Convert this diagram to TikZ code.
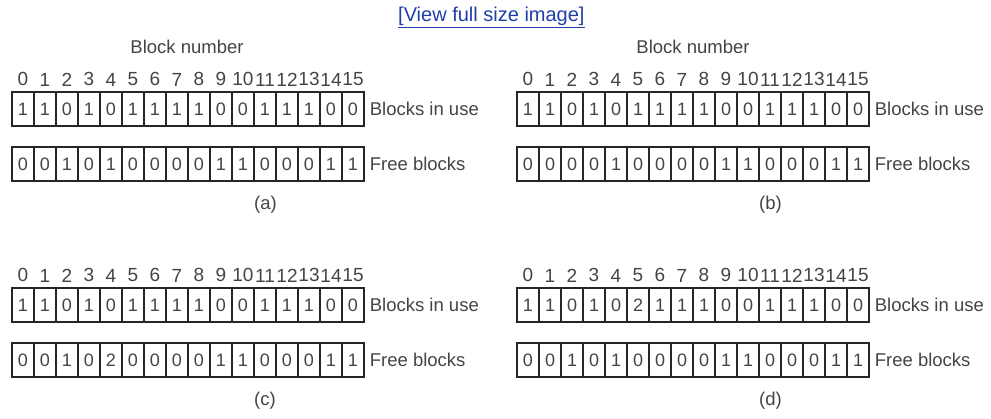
\documentclass[tikz,border=0pt]{standalone}
\usepackage{fontspec}
\setmainfont{Liberation Sans}
\usetikzlibrary{positioning}

\definecolor{inkgray}{HTML}{444444}
\definecolor{linkblue}{HTML}{1F3FA8}

% one bitmap pair: name, x, y, blocks in use, free blocks, caption
\newcommand{\bitpanel}[6]{%
  \begin{scope}[shift={(#2,#3)}]
    \foreach \b [count=\i from 0] in {#4}
      \node[cell] (#1u\i) at (22*\i+11,17) {\b};
    \foreach \b [count=\i from 0] in {#5}
      \node[cell] (#1f\i) at (22*\i+11,72) {\b};
    \foreach \i in {0,...,15}
      \node[blknum, above=5pt of #1u\i] (#1n\i) {\i};
    \node[rowlabel, right=5pt of #1u15] (#1ul) {Blocks in use};
    \node[rowlabel, right=5pt of #1f15] (#1fl) {Free blocks};
    \node[rowlabel] (#1cap) at (242,113) {#6};
  \end{scope}%
}

\begin{document}
\begin{tikzpicture}[
  x=1pt, y=-1pt,
  cell/.style={draw=black!85, line width=1.3pt, minimum width=22pt,
    minimum height=34pt, inner sep=0pt, text=inkgray,
    font=\fontsize{18}{18}\selectfont},
  blknum/.style={inner sep=0pt, text=inkgray, font=\fontsize{19}{19}\selectfont},
  rowlabel/.style={inner sep=0pt, anchor=west, text=inkgray,
    font=\fontsize{18.5}{18.5}\selectfont},
]
\useasboundingbox (0,0) rectangle (991,418);

% --- Link oben ---
\node[inner sep=0pt, anchor=west, text=linkblue,
  font=\fontsize{20}{20}\selectfont] (link) at (398,17) {\underline{[View full size image]}};

% --- Ueberschriften ---
\node[rowlabel, anchor=center] (titleA) at (187,47) {Block number};
\node[rowlabel, anchor=center] (titleB) at (693,47) {Block number};

% --- (a) ---
\bitpanel{a}{12}{92}{1,1,0,1,0,1,1,1,1,0,0,1,1,1,0,0}{0,0,1,0,1,0,0,0,0,1,1,0,0,0,1,1}{(a)}
% --- (b) ---
\bitpanel{b}{517}{92}{1,1,0,1,0,1,1,1,1,0,0,1,1,1,0,0}{0,0,0,0,1,0,0,0,0,1,1,0,0,0,1,1}{(b)}
% --- (c) ---
\bitpanel{c}{12}{288}{1,1,0,1,0,1,1,1,1,0,0,1,1,1,0,0}{0,0,1,0,2,0,0,0,0,1,1,0,0,0,1,1}{(c)}
% --- (d) ---
\bitpanel{d}{517}{288}{1,1,0,1,0,2,1,1,1,0,0,1,1,1,0,0}{0,0,1,0,1,0,0,0,0,1,1,0,0,0,1,1}{(d)}

\end{tikzpicture}
\end{document}
